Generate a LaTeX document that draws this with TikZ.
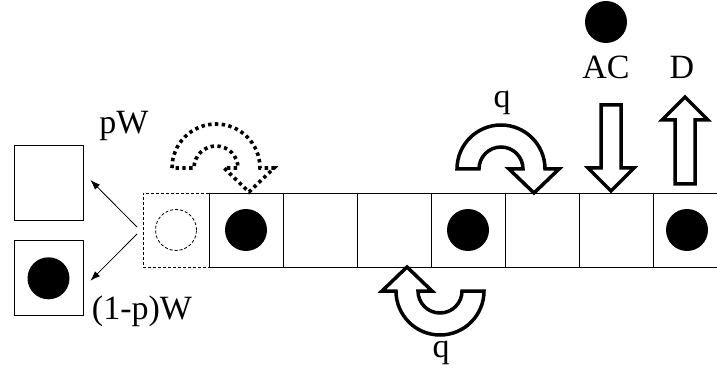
\documentclass[tikz,border=0pt]{standalone}
\usepackage{fontspec}
\setmainfont{Liberation Serif}
\usetikzlibrary{positioning, arrows.meta}

\tikzset{
    cell/.style = {draw, line width=0.8pt, minimum width=74pt, minimum height=74pt, inner sep=0pt, outer sep=0pt},
    ghost/.style = {cell, minimum width=66pt, dash pattern=on 3pt off 2pt},
    ball/.style = {circle, fill, minimum size=42pt, inner sep=0pt},
    ghostball/.style = {circle, draw, line width=0.8pt, dash pattern=on 3pt off 2pt, minimum size=41pt, inner sep=0pt},
    box/.style = {draw, line width=0.8pt, minimum width=69pt, minimum height=75pt, inner sep=0pt},
    edge/.style = {-{Latex[length=10pt, width=7pt]}, line width=0.8pt},
    hollow/.style = {line width=3.5pt, line join=miter},
    dots/.style = {line width=3.6pt, dash pattern=on 3.4pt off 3.4pt},
    uturn/.pic = {
        \draw (-44,0) arc[start angle=180, end angle=0, radius=44] -- (58,0) -- (33,-24)
              -- (8,0) -- (22,0) arc[start angle=0, end angle=180, radius=22] -- cycle;
    }
}

\begin{document}
\begin{tikzpicture}[x=1pt, y=1pt, font=\fontsize{34}{40}\selectfont]
        \useasboundingbox (0,0) rectangle (717,375);

        \node[cell] (c1) at (246,145) {};
        \node[ghost, left=0pt of c1] (vac) {};
        \node[cell, right=0pt of c1] (c2) {};
        \node[cell, right=0pt of c2] (c3) {};
        \node[cell, right=0pt of c3] (c4) {};
        \node[cell, right=0pt of c4] (c5) {};
        \node[cell, right=0pt of c5] (c6) {};
        \node[cell, draw=none, right=0pt of c6] (c7) {};
        \draw[line width=0.8pt] (c7.north west) -- ++(64,0) (c7.south west) -- ++(64,0);

        \node[ghostball] (gb) at (vac) {};
        \node[ball] (b1) at (c1) {};
        \node[ball] (b4) at (c4) {};
        \node[ball] (b7) at ([xshift=-3pt]c7.center) {};

        \node[box] (e) at (48.5,192.5) {};
        \node[box, below=20pt of e] (f) {};
        \node[ball] (bf) at (f) {};

        \node (pw) at (124,249) {pW};
        \node (qw) at (142,64) {(1-p)W};

        \draw[edge] ([shift={(-6pt,3pt)}]vac.west) -- ([shift={(7pt,2.5pt)}]e.east);
        \draw[edge] ([shift={(-6pt,-4pt)}]vac.west) -- ([shift={(7pt,-2.5pt)}]f.east);

        \pic[dots] at (216,207) {uturn};
        \pic[hollow] at (501,206) {uturn};
        \pic[hollow, rotate=180] at (440,84) {uturn};
        \node (q1) at (502,272) {q};
        \node (q2) at (441,22) {q};

        \node[ball] (acball) at (606,353) {};
        \node[below=9pt of acball] (ac) {AC};
        \node (dd) at (682,307.5) {D};

        \draw[hollow] (601,270) -- (621,270) -- (621,207) -- (634,207) -- (611,184)
              -- (588,207) -- (601,207) -- cycle;
        \draw[hollow] (675,191) -- (695,191) -- (695,255) -- (708,255) -- (685,278)
              -- (662,255) -- (675,255) -- cycle;
\end{tikzpicture}
\end{document}
